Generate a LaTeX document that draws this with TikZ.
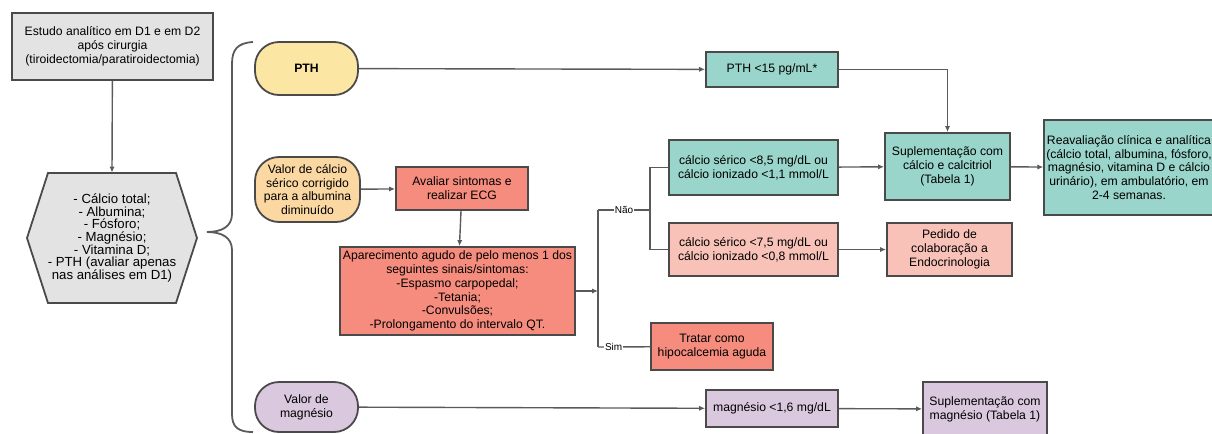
\documentclass[tikz,border=0pt]{standalone}
\usepackage{fontspec}
\setmainfont{Liberation Sans}
\usetikzlibrary{arrows.meta}
\definecolor{cinza}{HTML}{E3E3E3}
\definecolor{amarelo}{HTML}{FCE6A4}
\definecolor{laranja}{HTML}{FBD8A2}
\definecolor{vermelho}{HTML}{F58C7D}
\definecolor{rosa}{HTML}{F9C2B8}
\definecolor{verde}{HTML}{99D5CA}
\definecolor{lilas}{HTML}{DAC8DE}
\definecolor{borda}{HTML}{4A4A4A}
\definecolor{linha}{HTML}{5A5A5A}
\tikzset{
 caixa/.style={draw=borda, line width=0.9pt, align=center, inner sep=1pt,
   font=\fontsize{6.1}{6.9}\selectfont},
 estadio/.style={caixa, rounded corners=12pt},
 seta/.style={draw=linha, line width=0.7pt, -{Latex[length=3pt,width=2.6pt]}},
 ligacao/.style={draw=linha, line width=0.7pt},
 rotulo/.style={fill=white, inner sep=0.6pt, font=\fontsize{5}{5}\selectfont}
}
\begin{document}
\begin{tikzpicture}[x=0.5pt,y=-0.5pt]
 \clip (0,0) rectangle (1212,434);
 \node[caixa, fill=cinza, minimum width=100.5pt, minimum height=33.5pt] (estudo) at (112.5,46.5)
  {Estudo analítico em D1 e em D2\\após cirurgia\\(tiroidectomia/paratiroidectomia)};
 \draw[draw=borda, line width=0.9pt, fill=cinza] (27,238) -- (48,173) -- (176,173) -- (197,238) -- (176,303) -- (48,303) -- cycle;
 \node[align=center, inner sep=0pt, minimum height=65pt, font=\fontsize{6.6}{6.3}\selectfont] (hex) at (112,238)
  {- Cálcio total;\\- Albumina;\\- Fósforo;\\- Magnésio;\\- Vitamina D;\\- PTH (avaliar apenas\\nas análises em D1)};
 \draw[seta] (estudo) -- (hex.north);
 \coordinate (ponta) at (207,232);
 \draw[linha, line width=0.9pt] (253,42) .. controls (237,43) and (232,50) .. (232,64) -- (232,214)
   .. controls (232,227) and (221,232) .. (ponta) .. controls (221,232) and (232,237) .. (232,250)
   -- (232,414) .. controls (232,427) and (238,432) .. (253,432);

 \node[estadio, fill=amarelo, minimum width=51.5pt, minimum height=26.5pt, font=\fontsize{6.1}{6.9}\bfseries] (pth) at (306.5,68.5) {PTH};
 \node[caixa, fill=verde, minimum width=66pt, minimum height=17.5pt] (pth15) at (772,69.5) {PTH <15 pg/mL*};
 \node[caixa, fill=verde, minimum width=62.5pt, minimum height=33.5pt] (suplcal) at (947.5,166.5)
  {Suplementação com\\cálcio e calcitriol\\(Tabela 1)};
 \node[caixa, fill=verde, minimum width=84pt, minimum height=47.5pt] (reav) at (1129,167.5)
  {Reavaliação clínica e analítica\\(cálcio total, albumina, fósforo,\\magnésio, vitamina D e cálcio\\urinário), em ambulatório, em\\2-4 semanas.};
 \draw[seta] (pth) -- (pth15);
 \draw[seta] (pth15) -| (suplcal);
 \draw[seta] (suplcal) -- (reav);

 \node[estadio, fill=laranja, minimum width=52.5pt, minimum height=32.5pt, inner sep=0pt] (valcal) at (307.5,189.5)
  {Valor de cálcio\\sérico corrigido\\para a albumina\\diminuído};
 \node[caixa, fill=vermelho, minimum width=66pt, minimum height=21.5pt] (avaliar) at (462,188.5)
  {Avaliar sintomas e\\realizar ECG};
 \node[caixa, fill=vermelho, minimum width=117.5pt, minimum height=44pt] (apar) at (457.5,291)
  {Aparecimento agudo de pelo menos 1 dos\\seguintes sinais/sintomas:\\-Espasmo carpopedal;\\-Tetania;\\-Convulsões;\\-Prolongamento do intervalo QT.};
 \draw[seta] (valcal) -- (avaliar);
 \draw[seta] (avaliar) -- (apar);

 \coordinate (nao) at (598,210);
 \coordinate (sim) at (598,347);
 \coordinate (decisao) at (598,291);
 \coordinate (ramo) at (650,210);
 \node[caixa, fill=verde, minimum width=84.5pt, minimum height=27.5pt] (c85) at (753.5,167.5)
  {cálcio sérico <8,5 mg/dL ou\\cálcio ionizado <1,1 mmol/L};
 \node[caixa, fill=rosa, minimum width=84.5pt, minimum height=26.5pt] (c75) at (753.5,249.5)
  {cálcio sérico <7,5 mg/dL ou\\cálcio ionizado <0,8 mmol/L};
 \node[caixa, fill=rosa, minimum width=62.5pt, minimum height=26.5pt] (pedido) at (949.5,249.5)
  {Pedido de\\colaboração a\\Endocrinologia};
 \node[caixa, fill=vermelho, minimum width=61pt, minimum height=23.5pt] (tratar) at (712,346.5)
  {Tratar como\\hipocalcemia aguda};
 \draw[seta] (apar) -- (decisao);
 \draw[ligacao] (nao) -- (sim);
 \draw[ligacao] (nao) -- node[rotulo] {Não} (ramo);
 \draw[ligacao] (sim) -- node[rotulo, pos=0.3] {Sim} (tratar);
 \draw[ligacao] (ramo) |- (c85);
 \draw[ligacao] (ramo) |- (c75);
 \draw[seta] (c85) -- (suplcal);
 \draw[seta] (c75) -- (pedido);

 \node[estadio, fill=lilas, minimum width=51.5pt, minimum height=25pt] (valmg) at (306.5,407)
  {Valor de\\magnésio};
 \node[caixa, fill=lilas, minimum width=66pt, minimum height=18.5pt] (mg16) at (772,408.5) {magnésio <1,6 mg/dL};
 \node[caixa, fill=lilas, minimum width=62pt, minimum height=27pt] (suplmg) at (985,409)
  {Suplementação com\\magnésio (Tabela 1)};
 \draw[seta] (valmg) -- (mg16);
 \draw[seta] (mg16) -- (suplmg);
\end{tikzpicture}
\end{document}
